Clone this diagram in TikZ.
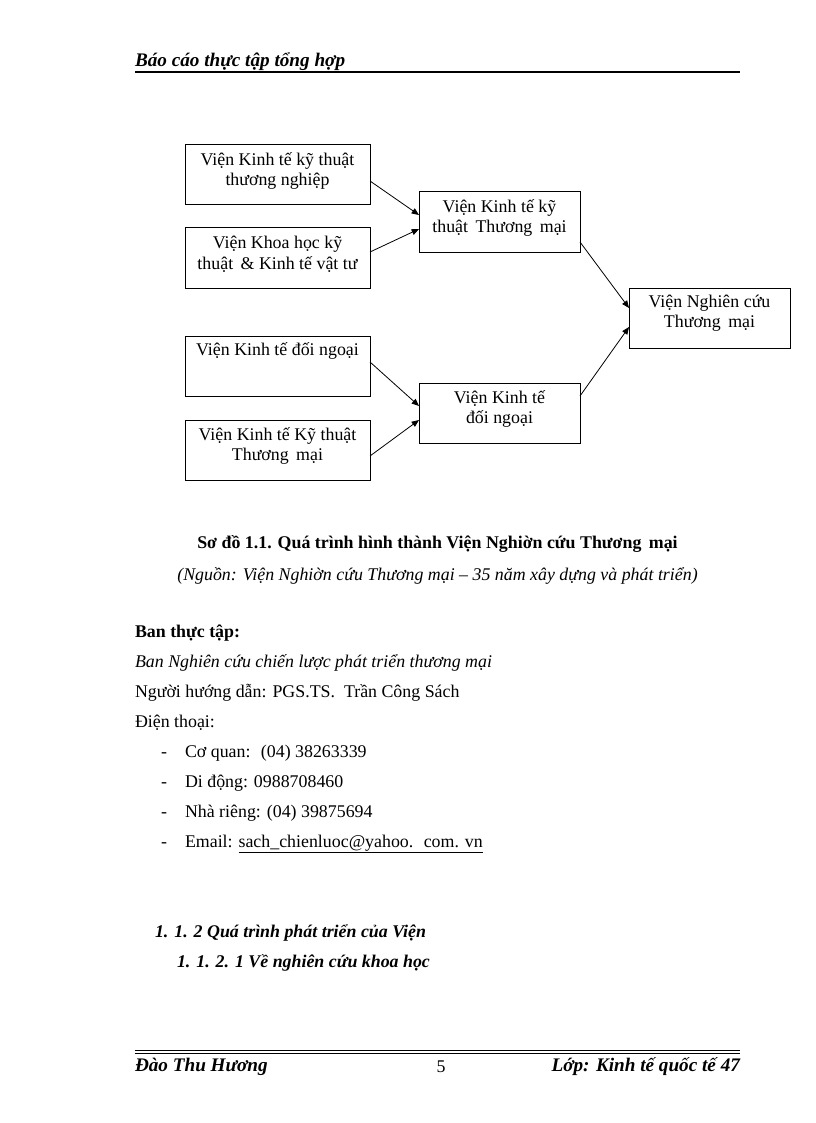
\documentclass[tikz,border=0pt]{standalone}
\usepackage{fontspec}
\setmainfont{Liberation Serif}
\usetikzlibrary{arrows.meta}
\begin{document}
\begin{tikzpicture}[x=0.75pt,y=-0.75pt,
  every node/.style={inner sep=0pt, outer sep=0pt},
  body/.style={font=\fontsize{13.4}{16}\selectfont, anchor=base west},
  boxtext/.style={font=\fontsize{13.4}{15.4}\selectfont, align=center},
  wbox/.style={draw, line width=0.75pt, minimum width=138.75pt, minimum height=45pt},
  mbox/.style={draw, line width=0.75pt, minimum width=120.75pt, minimum height=45pt},
  arr/.style={line width=0.6pt, -{Triangle[length=5.5pt,width=4.5pt]}},
  hdr/.style={font=\fontsize{14.4}{17}\selectfont\bfseries\itshape}
]
\useasboundingbox (0,0) rectangle (816,1123);
\fill[white] (0,0) rectangle (816,1123);

% header
\node[hdr, anchor=base west] (hd) at (135,67) {Báo cáo thực tập tổng hợp};
\coordinate (hl) at (135,72);
\coordinate (hr) at (740,72);
\draw[line width=1.8pt] (hl) -- (hr);

% boxes
\node[wbox] (A) at (277.5,174.5) {};
\node[wbox] (B) at (277.5,258) {};
\node[wbox] (E) at (277.5,366) {};
\node[wbox] (F) at (277.5,450) {};
\node[mbox] (C) at (499.5,222) {};
\node[mbox] (G) at (499.5,413.5) {};
\node[mbox] (D) at (709.5,318) {};

\node[boxtext] (At) at (277.5,171) {Viện Kinh tế kỹ thuật\\thương nghiệp};
\node[boxtext] (Bt) at (277.5,254) {Viện Khoa học kỹ\\thuật \,\& Kinh tế vật tư};
\node[boxtext] (Et) at (277.5,351) {Viện Kinh tế đối ngoại};
\node[boxtext] (Ft) at (277.5,446) {Viện Kinh tế Kỹ thuật\\Thương \,mại};
\node[boxtext] (Ct) at (499.5,218) {Viện Kinh tế kỹ\\thuật \,Thương \,mại};
\node[boxtext] (Gt) at (499.5,409) {Viện Kinh tế\\đối ngoại};
\node[boxtext] (Dt) at (709.5,313) {Viện Nghiên cứu\\Thương \,mại};

% arrows
\draw[arr] ([yshift=-4.875pt]A.east) -- ([yshift=5.25pt]C.west);
\draw[arr] ([yshift=4.5pt]B.east) -- ([yshift=-5.25pt]C.west);
\draw[arr] ([yshift=-15pt]C.east) -- ([yshift=7.5pt]D.west);
\draw[arr] ([yshift=13.125pt]G.east) -- ([yshift=-6.75pt]D.west);
\draw[arr] ([yshift=3pt]E.east) -- ([yshift=5.625pt]G.west);
\draw[arr] ([yshift=-4.5pt]F.east) -- ([yshift=-4.875pt]G.west);

% caption
\node[font=\fontsize{13.4}{16}\selectfont\bfseries, anchor=base] (cap) at (437.5,548) {Sơ đồ 1.1. Quá trình hình thành Viện Nghiờn cứu Thương \,mại};
\node[font=\fontsize{13.4}{16}\selectfont\itshape, anchor=base] (src) at (437.5,580) {(Nguồn: Viện Nghiờn cứu Thương mại – 35 năm xây dựng và phát triển)};

% body
\node[body, font=\fontsize{13.4}{16}\selectfont\bfseries] (b1) at (135,637) {Ban thực tập:};
\node[body, font=\fontsize{13.4}{16}\selectfont\itshape] (b2) at (135,667) {Ban Nghiên cứu chiến lược phát triển thương mại};
\node[body] (b3) at (135,697) {Người hướng dẫn: PGS.TS. \ Trần Công Sách};
\node[body] (b4) at (135,727) {Điện thoại:};
\node[body] (d1) at (161,757) {-};
\node[body] (l1) at (185,757) {Cơ quan: \ (04) 38263339};
\node[body] (d2) at (161,787) {-};
\node[body] (l2) at (185,787) {Di động: 0988708460};
\node[body] (d3) at (161,817) {-};
\node[body] (l3) at (185,817) {Nhà riêng: (04) 39875694};
\node[body] (d4) at (161,847) {-};
\node[body] (l4) at (185,847) {Email: \underline{sach\_chienluoc@yahoo. \ com. vn}};

% sections
\node[body, font=\fontsize{13.4}{16}\selectfont\bfseries\itshape] (s1) at (155,937) {1. 1. 2 Quá trình phát triển của Viện};
\node[body, font=\fontsize{13.4}{16}\selectfont\bfseries\itshape] (s2) at (177,967) {1. 1. 2. 1 Về nghiên cứu khoa học};

% footer
\coordinate (f1l) at (135,1050);
\coordinate (f1r) at (740,1050);
\coordinate (f2l) at (135,1053);
\coordinate (f2r) at (740,1053);
\draw[line width=0.7pt] (f1l) -- (f1r);
\draw[line width=0.7pt] (f2l) -- (f2r);
\node[hdr, anchor=base west] (fl) at (135,1071) {Đào Thu Hương};
\node[font=\fontsize{13.4}{16}\selectfont, anchor=base] (pg) at (441,1072) {5};
\node[hdr, anchor=base east] (fr) at (740,1071) {Lớp: Kinh tế quốc tế 47};
\end{tikzpicture}
\end{document}
